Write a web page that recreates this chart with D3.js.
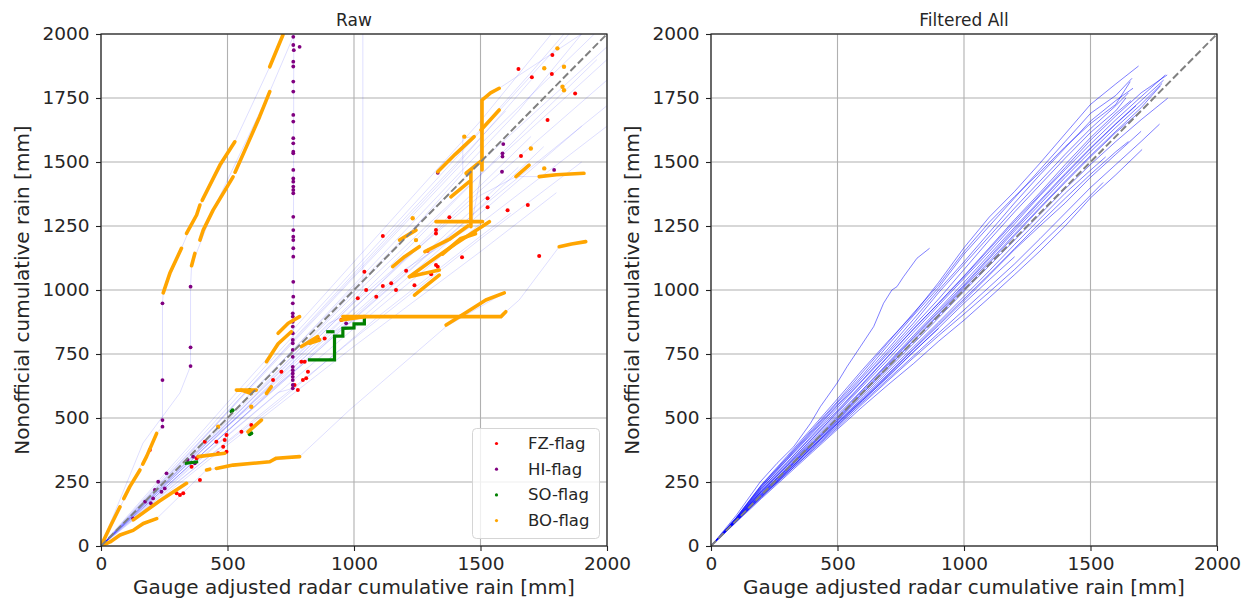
<!DOCTYPE html>
<html>
<head>
<meta charset="utf-8">
<script src="https://cdn.jsdelivr.net/npm/d3@7"></script>
<style>
body { margin: 0; background: #fff; }
svg text { font-family: 'DejaVu Sans', sans-serif; fill: #262626; }
</style>
</head>
<body>
<div id="viz"></div>
<script>
const w = 1250;
const h = 603;

const xTicks = [0, 500, 1000, 1500, 2000]
const yTicks = [0, 250, 500, 750, 1000, 1250, 1500, 1750, 2000]
const flagNames = ['FZ-flag', 'HI-flag', 'SO-flag', 'BO-flag']
const flagColors = ['red', 'purple', 'green', 'orange']

// raw station curves (faint blue)
const rawLines = [
  [[0,0],[500,560],[1000,1110],[1500,1660],[1780,2000]],
  [[0,0],[500,540],[1000,1080],[1500,1620],[1850,2000]],
  [[0,0],[500,520],[1000,1050],[1500,1570],[1950,2000]],
  [[0,0],[500,505],[1000,1010],[1500,1500],[2000,1950]],
  [[0,0],[500,490],[1000,980],[1500,1450],[2000,1900]],
  [[0,0],[500,470],[1000,930],[1500,1390],[2000,1820]],
  [[0,0],[500,450],[1000,890],[1500,1320],[2000,1720]],
  [[0,0],[500,430],[1000,850],[1500,1260],[2000,1640]],
  [[0,0],[500,410],[1000,810],[1500,1200],[1900,1500]],
  [[0,0],[500,395],[1000,780],[1500,1150],[1800,1380]],
  [[0,0],[600,560],[1200,1150],[1700,1650],[1960,1900]],
  [[0,0],[600,540],[1200,1120],[1700,1600]],
  [[0,0],[600,600],[1200,1230],[1650,1700],[1900,2000]],
  [[0,0],[400,420],[900,950],[1400,1480],[1700,1820]],
  [[0,0],[400,360],[900,800],[1400,1230],[1750,1560]],
  [[0,0],[300,270],[800,720],[1300,1160],[1650,1480]],
  [[0,0],[220,440],[243,466],[243,492],[243,648],[243,948],[246,989],[318,1163],[391,1332],[529,1579],[667,1872],[740,2060]],
  [[0,0],[166,402],[312,598],[354,703],[354,1013],[358,1095],[443,1312],[667,1775],[760,1990],[780,2050]],
  [[0,0],[220,107],[417,297],[785,349],[982,531],[1364,857],[1594,989]],
  [[0,0],[400,350],[700,600],[760,616],[762,2050]],
  [[0,0],[500,480],[900,870],[956,896],[1581,896],[1600,915],[1653,961],[1811,1169],[1916,1189]],
  [[0,0],[500,470],[1000,950],[1500,1370],[1640,1443],[1732,1443],[1909,1456]],
  [[0,0],[600,560],[1200,1080],[1462,1247],[1506,1469],[1506,1742],[1574,1788],[1900,2000]],
  [[0,0],[500,480],[1000,960],[1035,1000],[1035,2050]],
  [[0,0],[600,580],[1200,1200],[1430,1457],[1430,1594],[1475,1599],[1700,1850],[1830,2000]],
  [[0,0],[400,390],[818,727],[923,727],[923,837],[956,857],[1041,900],[1500,1300],[1900,1640]],
  [[0,0],[300,250],[700,560],[1100,900],[1500,1210],[1620,1300]],
  [[0,0],[350,360],[800,850],[1200,1280],[1600,1700]]
]

// BO-flag runs (dense orange markers)
const boRuns = [
  [[0,0],[36,75],[75,153]],
  [[90,185],[114,232],[154,297]],
  [[165,320],[180,349],[220,440]],
  [[246,989],[272,1065],[318,1163]],
  [[338,1221],[378,1293],[391,1332]],
  [[400,1350],[470,1488],[529,1579]],
  [[667,1872],[719,1996]],
  [[358,1095],[371,1143]],
  [[391,1195],[404,1234],[443,1312],[522,1442]],
  [[530,1460],[575,1560],[627,1677],[667,1775]],
  [[0,0],[36,16],[75,43],[127,61],[167,88],[220,107]],
  [[128,102],[230,175],[338,245]],
  [[456,303],[522,316],[601,323],[667,329],[693,343],[785,349]],
  [[417,297],[430,300]],
  [[654,720],[700,790],[752,837]],
  [[700,831],[740,870],[785,896]],
  [[792,779],[857,818]],
  [[956,896],[1581,896],[1600,915]],
  [[1364,863],[1440,910],[1521,961],[1594,989]],
  [[1811,1169],[1860,1180],[1916,1189]],
  [[1732,1443],[1800,1450],[1909,1456]],
  [[1640,1443],[1692,1488]],
  [[1506,1469],[1506,1742],[1540,1770],[1574,1788]],
  [[1502,1625],[1574,1703]],
  [[1331,1462],[1400,1530],[1475,1599]],
  [[1219,1052],[1300,1110],[1400,1180],[1535,1267]],
  [[1462,1247],[1462,1469]],
  [[1324,1267],[1508,1267]],
  [[1153,1091],[1200,1130],[1258,1169]],
  [[1219,1052],[1337,1078]],
  [[1180,1195],[1245,1234]],
  [[1239,980],[1337,1058]],
  [[555,609],[594,596]],
  [[654,596],[673,622]],
  [[384,349],[489,362]],
  [[581,446],[634,492]],
  [[535,609],[614,609]],
  [[824,792],[864,805]],
  [[1350,1140],[1420,1200],[1480,1220]],
  [[1280,1150],[1380,1200],[1450,1250]],
  [[1383,1364],[1456,1423]],
  [[1443,1456],[1508,1508]],
  [[950,883],[1041,896]]
]
const boPoints = [[1804,1944],[1752,1866],[1830,1872],[1824,1794],[1699,1553],[1752,1475],
  [1232,1280],[1436,1599],[463,466],[594,544],[1245,1195],[1830,1780]]

const fzPoints = [[1784,1918],[1650,1863],[1703,1831],[1782,1844],[1874,1768],[1765,1664],[1660,1523],
  [1528,1358],[1528,1323],[1607,1312],[1687,1332],[1114,1211],[1324,1234],[1324,1221],[1377,1284],
  [1291,1153],[1324,1098],[1331,1091],[1206,1075],[1427,1128],[1305,1062],[1147,1026],[1041,1071],
  [1114,1016],[1239,1019],[1166,1000],[1088,974],[1048,1000],[1015,968],[1732,1133],
  [950,883],[884,811],[857,811],[792,720],[805,720],[713,681],[680,648],[818,681],[811,655],[798,648],
  [778,609],[765,629],[594,473],[588,440],[555,446],[496,434],[489,414],[456,407],[483,388],[496,368],
  [463,362],[410,407],[378,343],[358,310],[391,258],[325,206],[312,199],[299,206],[193,375]]

const hiPoints = [[760,1989],[760,1957],[762,1937],[760,1892],[760,1873],[760,1814],[760,1775],[760,1684],
  [760,1658],[760,1593],[760,1573],[760,1540],[760,1534],[760,1469],[760,1436],[760,1423],[760,1404],
  [760,1391],[760,1378],[760,1286],[760,1234],[760,1208],[760,1195],[760,1163],[760,1130],[760,1032],
  [760,974],[758,948],[758,909],[758,896],[758,876],[758,857],[758,831],[758,805],[758,792],[758,766],
  [758,739],[758,700],[758,687],[758,674],[758,661],[758,648],[758,629],[758,616],[785,1950],
  [243,466],[243,492],[243,648],[243,948],[354,703],[354,776],[354,1013],
  [259,284],[226,251],[213,219],[206,186],[174,173],[127,108],[364,349],[371,323],[342,336],[197,167],
  [252,225],[239,212],[1590,1570],[1587,1534],[1587,1521],[1585,1462],[1791,1469],[1331,1458],[969,870]]

const soRuns = [
  [[818,727],[923,727],[923,820],[956,820],[956,850],[1000,852],[1000,868],[1041,868],[1041,900]],
  [[890,837],[923,837]],
  [[331,323],[384,329]]
]
const soPoints = [[516,525],[588,609],[588,437],[594,440],[520,530]]

// filtered station curves
const filteredLines = [
  [[0,0],[100,112],[200,240],[300,350],[400,462],[500,575],[600,690],[700,800],[800,905],[900,1030],[1000,1165],[1100,1285],[1200,1385],[1300,1495],[1400,1610],[1500,1725],[1600,1805],[1690,1875]],
  [[0,0],[100,110],[200,236],[300,342],[400,450],[500,560],[600,668],[700,785],[800,900],[900,1010],[1000,1140],[1100,1250],[1200,1360],[1300,1470],[1400,1580],[1500,1690],[1600,1760],[1664,1827]],
  [[0,0],[100,108],[200,230],[300,338],[400,445],[500,552],[600,660],[700,770],[800,885],[900,1000],[1000,1110],[1100,1225],[1200,1340],[1300,1450],[1400,1555],[1500,1660],[1600,1740],[1668,1788]],
  [[0,0],[100,111],[200,238],[300,345],[400,455],[500,565],[600,680],[700,795],[800,910],[900,1020],[1000,1150],[1100,1265],[1200,1365],[1300,1460],[1400,1560],[1500,1650],[1600,1725],[1657,1814]],
  [[0,0],[100,109],[200,232],[300,335],[400,440],[500,548],[600,650],[700,760],[800,870],[900,990],[1000,1100],[1100,1210],[1200,1320],[1300,1425],[1400,1530],[1500,1630],[1600,1720],[1650,1770]],
  [[0,0],[100,120],[195,251],[261,323],[327,388],[393,479],[432,544],[498,636],[538,701],[590,778],[643,857],[682,948],[715,1000],[735,1013],[761,1052],[814,1124],[864,1163]],
  [[0,0],[100,106],[200,220],[300,318],[400,420],[500,520],[600,625],[700,728],[800,835],[900,940],[1000,1045],[1100,1150],[1200,1258],[1300,1368],[1400,1470],[1500,1570],[1600,1665],[1700,1755],[1796,1840]],
  [[0,0],[100,104],[200,214],[300,310],[400,412],[500,512],[600,612],[700,716],[800,822],[900,925],[1000,1030],[1100,1138],[1200,1245],[1300,1350],[1400,1455],[1500,1555],[1600,1650],[1700,1740],[1789,1820]],
  [[0,0],[100,102],[200,208],[300,305],[400,402],[500,500],[600,603],[700,707],[800,812],[900,912],[1000,1015],[1100,1122],[1200,1230],[1300,1335],[1400,1440],[1500,1540],[1600,1635],[1700,1725],[1783,1807]],
  [[0,0],[100,103],[200,211],[300,300],[400,398],[500,492],[600,596],[700,700],[800,803],[900,905],[1000,1010],[1100,1112],[1200,1218],[1300,1322],[1400,1425],[1500,1525],[1600,1620],[1700,1712],[1776,1797]],
  [[0,0],[100,105],[200,216],[300,315],[400,418],[500,525],[600,632],[700,740],[800,848],[900,948],[1000,1052],[1100,1160],[1200,1268],[1300,1372],[1400,1478],[1500,1585],[1600,1680],[1700,1770],[1803,1840]],
  [[0,0],[100,100],[200,203],[300,297],[400,395],[500,490],[600,588],[700,690],[800,790],[900,892],[1000,995],[1100,1095],[1200,1195],[1300,1295],[1400,1395],[1500,1490],[1600,1580],[1700,1665],[1805,1749]],
  [[0,0],[100,101],[200,206],[300,302],[400,398],[500,497],[600,598],[700,698],[800,800],[900,902],[1000,1002],[1100,1105],[1200,1212],[1300,1318],[1400,1420],[1500,1520],[1600,1615],[1700,1700]],
  [[0,0],[100,107],[200,226],[300,325],[400,428],[500,530],[600,636],[700,742],[800,846],[900,950],[1000,1055],[1100,1165],[1200,1275],[1300,1380],[1400,1490],[1500,1595],[1600,1690],[1660,1740]],
  [[0,0],[100,103],[200,215],[300,312],[400,405],[500,505],[600,610],[700,712],[800,815],[900,918],[1000,1020],[1100,1128],[1200,1238],[1300,1345],[1400,1450],[1500,1552],[1600,1648],[1680,1720]],
  [[0,0],[100,96],[200,192],[300,287],[400,380],[500,472],[600,562],[700,652],[800,742],[900,832],[1000,922],[1100,1012],[1200,1102],[1300,1200],[1400,1300],[1500,1400],[1600,1490],[1700,1580],[1773,1648]],
  [[0,0],[100,93],[200,186],[300,276],[400,366],[500,456],[600,545],[700,630],[800,712],[900,800],[1000,882],[1100,970],[1200,1060],[1300,1152],[1400,1250],[1500,1360],[1600,1450],[1704,1549]],
  [[0,0],[100,97],[200,195],[300,283],[400,372],[500,462],[600,556],[700,646],[800,735],[900,822],[1000,906],[1100,992],[1200,1080],[1300,1175],[1400,1270],[1500,1370],[1550,1420]],
  [[0,0],[100,98],[200,198],[300,290],[400,385],[500,478],[600,572],[700,668],[800,768],[900,862],[1000,958],[1100,1058],[1200,1158],[1300,1250],[1400,1340],[1500,1440],[1600,1530],[1700,1620]],
  [[0,0],[100,96],[200,190],[300,282],[400,375],[500,468],[600,568],[700,664],[800,758],[900,852],[1000,948],[1100,1040],[1200,1130]],
  [[0,0],[100,99],[200,200],[300,292],[400,386],[500,478],[600,570],[700,660],[800,758],[900,850]],
  [[0,0],[100,99],[200,202],[300,298],[400,390],[500,485],[600,580],[700,680],[800,778],[900,875],[1000,975],[1100,1075],[1200,1178],[1300,1278],[1400,1378],[1500,1468],[1560,1520]],
  [[0,0],[100,95],[200,194],[300,290],[400,388],[500,482],[600,575],[700,672],[800,770],[900,868],[1000,965],[1100,1062],[1200,1162],[1300,1262],[1400,1358],[1500,1452],[1600,1540],[1650,1580]],
  [[0,0],[100,105],[200,224],[300,326],[400,432],[500,540],[600,648],[700,752],[800,858],[900,965],[1000,1080],[1100,1195],[1200,1305],[1300,1410],[1400,1515],[1500,1615],[1600,1700],[1640,1750]]
]

const svg = d3.select('#viz').append('svg')
    .attr('width', w)
    .attr('height', h)

const yTop = 34
const yBottom = 546

function makePanel(x0, x1, title, clipId) {
    let x = d3.scaleLinear().domain([0, 2000]).range([x0, x1])
    let y = d3.scaleLinear().domain([0, 2000]).range([yBottom, yTop])
    let g = svg.append('g')

    svg.append('clipPath').attr('id', clipId)
        .append('rect')
        .attr('x', x0).attr('y', yTop)
        .attr('width', x1 - x0).attr('height', yBottom - yTop)

    // grid
    g.selectAll('.vg').data(xTicks).enter().append('line')
        .attr('x1', d => x(d)).attr('x2', d => x(d))
        .attr('y1', yTop).attr('y2', yBottom)
        .attr('stroke', '#b0b0b0').attr('stroke-width', 1.1)
    g.selectAll('.hg').data(yTicks).enter().append('line')
        .attr('x1', x0).attr('x2', x1)
        .attr('y1', d => y(d)).attr('y2', d => y(d))
        .attr('stroke', '#b0b0b0').attr('stroke-width', 1.1)

    let plot = g.append('g').attr('clip-path', `url(#${clipId})`)

    // axes
    let xAxis = g.append('g')
        .attr('transform', `translate(0,${yBottom})`)
        .call(d3.axisBottom(x).tickValues(xTicks).tickFormat(d3.format('d')).tickSize(5).tickPadding(6))
    let yAxis = g.append('g')
        .attr('transform', `translate(${x0},0)`)
        .call(d3.axisLeft(y).tickValues(yTicks).tickFormat(d3.format('d')).tickSize(5).tickPadding(6.5))
    for (let ax of [xAxis, yAxis]) {
        ax.select('.domain').remove()
        ax.attr('font-family', null).attr('font-size', null)
        ax.selectAll('line').attr('stroke', '#222').attr('stroke-width', 1.1)
        ax.selectAll('text').style('font-size', '18.5px').attr('fill', '#262626')
    }

    // frame
    let frame = g.append('rect')
        .attr('x', x0).attr('y', yTop)
        .attr('width', x1 - x0).attr('height', yBottom - yTop)
        .attr('fill', 'none')
        .attr('stroke', '#222')
        .attr('stroke-width', 1.2)

    g.append('text')
        .attr('x', (x0 + x1) / 2).attr('y', 26)
        .attr('text-anchor', 'middle')
        .style('font-size', '17px')
        .text(title)

    g.append('text')
        .attr('x', (x0 + x1) / 2).attr('y', 594)
        .attr('text-anchor', 'middle')
        .style('font-size', '20px')
        .text('Gauge adjusted radar cumulative rain [mm]')

    g.append('text')
        .attr('transform', `translate(${x0 - 72},${(yTop + yBottom) / 2}) rotate(-90)`)
        .attr('text-anchor', 'middle')
        .style('font-size', '20px')
        .text('Nonofficial cumulative rain [mm]')

    return { g, x, y, plot, frame }
}

let left = makePanel(101, 607, 'Raw', 'clipL')
let right = makePanel(711, 1217, 'Filtered All', 'clipR')

function lineGen(p) {
    return d3.line().x(d => p.x(d[0])).y(d => p.y(d[1]))
}

// ---- left panel: raw
let lineL = lineGen(left)
left.plot.selectAll('.raw').data(rawLines).enter().append('path')
    .attr('d', lineL)
    .attr('fill', 'none')
    .attr('stroke', 'blue')
    .attr('stroke-opacity', 0.13)
    .attr('stroke-width', 1)

left.plot.selectAll('.fz').data(fzPoints).enter().append('circle')
    .attr('cx', d => left.x(d[0])).attr('cy', d => left.y(d[1]))
    .attr('r', 2).attr('fill', flagColors[0])

left.plot.selectAll('.hi').data(hiPoints).enter().append('circle')
    .attr('cx', d => left.x(d[0])).attr('cy', d => left.y(d[1]))
    .attr('r', 1.9).attr('fill', flagColors[1])

left.plot.selectAll('.so').data(soRuns).enter().append('path')
    .attr('d', lineL)
    .attr('fill', 'none')
    .attr('stroke', flagColors[2])
    .attr('stroke-width', 3.2)
left.plot.selectAll('.sop').data(soPoints).enter().append('circle')
    .attr('cx', d => left.x(d[0])).attr('cy', d => left.y(d[1]))
    .attr('r', 2).attr('fill', flagColors[2])

left.plot.selectAll('.bo').data(boRuns).enter().append('path')
    .attr('d', lineL)
    .attr('fill', 'none')
    .attr('stroke', flagColors[3])
    .attr('stroke-width', 3.6)
    .attr('stroke-linecap', 'round')
    .attr('stroke-linejoin', 'round')
left.plot.selectAll('.bop').data(boPoints).enter().append('circle')
    .attr('cx', d => left.x(d[0])).attr('cy', d => left.y(d[1]))
    .attr('r', 2.2).attr('fill', flagColors[3])

// ---- right panel: filtered
let lineR = lineGen(right)
right.plot.selectAll('.flt').data(filteredLines).enter().append('path')
    .attr('d', lineR)
    .attr('fill', 'none')
    .attr('stroke', 'blue')
    .attr('stroke-opacity', 0.5)
    .attr('stroke-width', 1)

// 1:1 lines
for (let p of [left, right]) {
    p.plot.append('line')
        .attr('x1', p.x(0)).attr('y1', p.y(0))
        .attr('x2', p.x(2000)).attr('y2', p.y(2000))
        .attr('stroke', 'gray')
        .attr('stroke-width', 2)
        .attr('stroke-dasharray', '7.4,3.2')
}

// legend
let legend = left.g.append('g')
legend.append('rect')
    .attr('x', 472.5).attr('y', 428.5)
    .attr('width', 127).attr('height', 110)
    .attr('rx', 4)
    .attr('fill', 'white').attr('fill-opacity', 0.8)
    .attr('stroke', '#d5d5d5')
let items = legend.selectAll('.item').data(flagNames).enter().append('g')
    .attr('transform', (d, i) => `translate(0,${443.5 + i * 25.7})`)
items.append('circle')
    .attr('cx', 496.5).attr('cy', 0)
    .attr('r', 1.6)
    .attr('fill', (d, i) => flagColors[i])
items.append('text')
    .attr('x', 528).attr('y', 5.5)
    .style('font-size', '16.5px')
    .text(d => d)
</script>
</body>
</html>
